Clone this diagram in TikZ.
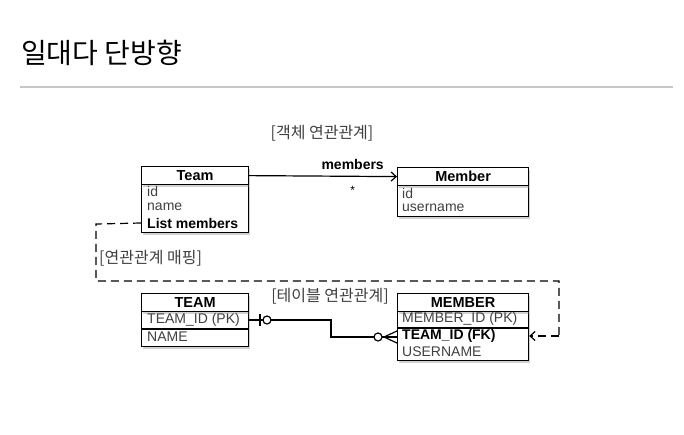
\documentclass[tikz,border=0pt]{standalone}
\usepackage{fontspec}
\setmainfont{Liberation Sans}
\newfontfamily\kr{Noto Sans CJK KR}
\usetikzlibrary{shadows,arrows.meta}
\definecolor{txtgray}{HTML}{404040}
\begin{document}
\begin{tikzpicture}[x=1pt,y=-1pt,
  box/.style={draw=black, line width=1.2pt, fill=white, inner sep=0pt, anchor=north west,
    drop shadow={opacity=0.35, shadow xshift=1.2pt, shadow yshift=-2pt}},
  hdr/.style={box, font=\fontsize{14.5}{16}\selectfont\bfseries},
  rowtxt/.style={anchor=west, inner sep=0pt, text=txtgray, font=\fontsize{14}{16}\selectfont},
  rowbold/.style={anchor=west, inner sep=0pt, text=black, font=\fontsize{14}{16}\selectfont\bfseries},
  krlabel/.style={inner sep=0pt, text=txtgray, font=\kr\fontsize{16}{18}\selectfont},
  conn/.style={line width=1.2pt, black},
  dashconn/.style={line width=1.2pt, black, dash pattern=on 8pt off 5pt},
  tip/.style={-{Straight Barb[length=5pt,width=9pt,line width=1.2pt]}}
]
\useasboundingbox (0,0) rectangle (684,434);
\fill[white] (0,0) rectangle (684,434);

% title
\node[anchor=base west, inner sep=0pt, font=\kr\fontsize{28}{32}\selectfont] (title) at (21,63) {일대다 단방향};
\draw[black!22, line width=1.5pt] (20,87) -- (673,87);

% object model
\node[krlabel] (objlbl) at (322,133) {[객체 연관관계]};

\node[box, minimum width=107pt, minimum height=48pt] (teamB) at (141,184) {};
\node[hdr, minimum width=107pt, minimum height=18pt] (teamH) at (141,166) {Team};
\node[rowtxt] (teamId) at (147,191) {id};
\node[rowtxt] (teamName) at (147,207) {name};
\node[rowbold] (teamList) at (147,223) {List members};

\node[box, minimum width=131pt, minimum height=31pt] (memB) at (397,185) {};
\node[hdr, minimum width=131pt, minimum height=18pt] (memH) at (397,167) {Member};
\node[rowtxt] (memId) at (402,193) {id};
\node[rowtxt] (memUser) at (402,208) {username};

\draw[conn, tip] (teamH.east) -- (memH.west)
  node[pos=0.7, above=3pt, font=\fontsize{14}{16}\selectfont\bfseries] (memlbl) {members}
  node[pos=0.7, below=6pt, font=\fontsize{12}{14}\selectfont] (star) {*};

% mapping dashed connector
\coordinate (d1) at (96,224);
\coordinate (d2) at (96,281);
\coordinate (d3) at (559,281);
\coordinate (d4) at (559,336);
\node[krlabel, anchor=west] (maplbl) at (99,258) {[연관관계 매핑]};

% table model
\node[krlabel] (tbllbl) at (330,296) {[테이블 연관관계]};

\node[box, minimum width=107pt, minimum height=35pt] (TEAMB) at (141,311) {};
\node[hdr, minimum width=107pt, minimum height=18pt] (TEAMH) at (141,293) {TEAM};
\draw[line width=1.2pt] (141,329) -- (248,329);
\node[rowtxt] (TEAMpk) at (147,320) {TEAM\_ID (PK)};
\node[rowtxt] (TEAMname) at (147,337) {NAME};

\node[box, minimum width=131pt, minimum height=49pt] (MEMB) at (397,311) {};
\node[hdr, minimum width=131pt, minimum height=18pt] (MEMH) at (397,293) {MEMBER};
\draw[line width=1.2pt] (397,328) -- (528,328);
\node[rowtxt] (MEMpk) at (402,319) {MEMBER\_ID (PK)};
\node[rowbold] (MEMfk) at (402,336) {TEAM\_ID (FK)};
\node[rowtxt] (MEMuser) at (402,352) {USERNAME};

\draw[dashconn] (teamB.west |- teamList) -- (d1) -- (d2) -- (d3) -- (d4);
\draw[dashconn, tip] (d4) -- (MEMB.east |- d4);

% relation line
\coordinate (r1) at (331,320);
\coordinate (r2) at (331,337);
\draw[conn] (TEAMB.east |- TEAMpk) -- (r1) -- (r2) -- (MEMB.west |- r2);
\draw[conn] (260,314) -- (260,326);
\node[circle, draw, line width=1.2pt, fill=white, minimum size=8pt, inner sep=0pt] (c1) at (267,320) {};
\node[circle, draw, line width=1.2pt, fill=white, minimum size=8pt, inner sep=0pt] (c2) at (378,337) {};
\draw[conn] (384,337) -- (397,331);
\draw[conn] (384,337) -- (397,343);
\end{tikzpicture}
\end{document}
